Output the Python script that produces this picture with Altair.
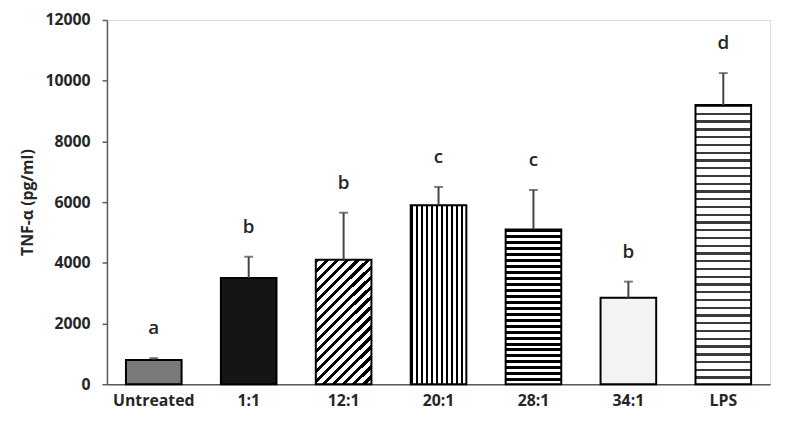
import altair as alt
import pandas as pd

categories = ["Untreated", "1:1", "12:1", "20:1", "28:1", "34:1", "LPS"]
means = [800, 3500, 4100, 5900, 5100, 2850, 9200]
errors = [60, 700, 1550, 600, 1300, 530, 1050]
letters = ["a", "b", "b", "c", "c", "b", "d"]
y_ticks = [0, 2000, 4000, 6000, 8000, 10000, 12000]

df = pd.DataFrame({
    "cat": categories,
    "mean": means,
    "err": errors,
    "letter": letters,
})
df["top"] = df["mean"] + df["err"]


def stripes(n, frac, x1, y1, x2, y2, dark="#000000", light="#ffffff"):
    stops = []
    for i in range(n):
        a = i / n
        m = (i + frac) / n
        b = (i + 1) / n
        stops += [
            alt.GradientStop(offset=a, color=dark),
            alt.GradientStop(offset=m, color=dark),
            alt.GradientStop(offset=m, color=light),
            alt.GradientStop(offset=b, color=light),
        ]
    return alt.LinearGradient(gradient="linear", stops=stops, x1=x1, y1=y1, x2=x2, y2=y2)


fills = {
    "Untreated": "#7a7a7a",
    "1:1": "#151515",
    "12:1": stripes(18, 0.42, 0.234, -0.105, 0.766, 1.105),
    "20:1": stripes(11, 0.4, 0, 0, 1, 0),
    "28:1": stripes(26, 0.5, 0, 0, 0, 1),
    "34:1": "#f3f3f3",
    "LPS": stripes(36, 0.3, 0, 0, 0, 1, dark="#3a3a3a"),
}

x_enc = alt.X(
    "cat:N",
    sort=categories,
    scale=alt.Scale(domain=categories, paddingInner=0.414, paddingOuter=0.2),
    axis=alt.Axis(
        title=None, labelAngle=0, ticks=False, labelFontSize=16, labelFont="Open Sans",
        labelFontWeight="bold", labelColor="#262626", labelPadding=9,
        domainColor="#595959", domainWidth=1.5,
    ),
)
y_scale = alt.Scale(domain=[0, 12000], nice=False)
y_enc = alt.Y(
    "mean:Q",
    scale=y_scale,
    axis=alt.Axis(
        title="TNF-α  (pg/ml)", values=y_ticks, format="d", grid=False, tickSize=5,
        tickColor="#595959", tickWidth=1.5, domainColor="#595959", domainWidth=1.5,
        labelFontSize=16, labelFont="Open Sans", labelFontWeight="bold",
        labelColor="#262626", labelPadding=12, titleFontSize=16, titleFont="Open Sans",
        titleFontWeight="bold", titleColor="#262626", titlePadding=10,
    ),
)

base = alt.Chart(df)

bars = [
    base.transform_filter(alt.datum.cat == c)
    .mark_bar(fill=fills[c], stroke="#000000", strokeWidth=2)
    .encode(x=x_enc, y=y_enc)
    for c in categories
]

err_rule = base.mark_rule(color="#444444", strokeWidth=2).encode(
    x=x_enc, y=alt.Y("mean:Q", scale=y_scale), y2="top:Q"
)
err_cap = base.mark_tick(color="#444444", thickness=2, size=9, orient="horizontal").encode(
    x=x_enc, y=alt.Y("top:Q", scale=y_scale)
)
labels = base.mark_text(
    dy=-30, fontSize=19, font="Open Sans", fontWeight=600, color="#262626", baseline="middle"
).encode(x=x_enc, y=alt.Y("top:Q", scale=y_scale), text="letter:N")

chart = (
    alt.layer(*bars, err_rule, err_cap, labels)
    .properties(
        width=670, height=368,
        padding={"left": 100, "top": 10, "right": 9, "bottom": 31},
        autosize=alt.AutoSizeParams(type="none"),
    )
    .configure_view(stroke=None)
    .configure(background="#ffffff")
)

chart.save("out.html", embed_options={"renderer": "svg", "actions": False})
